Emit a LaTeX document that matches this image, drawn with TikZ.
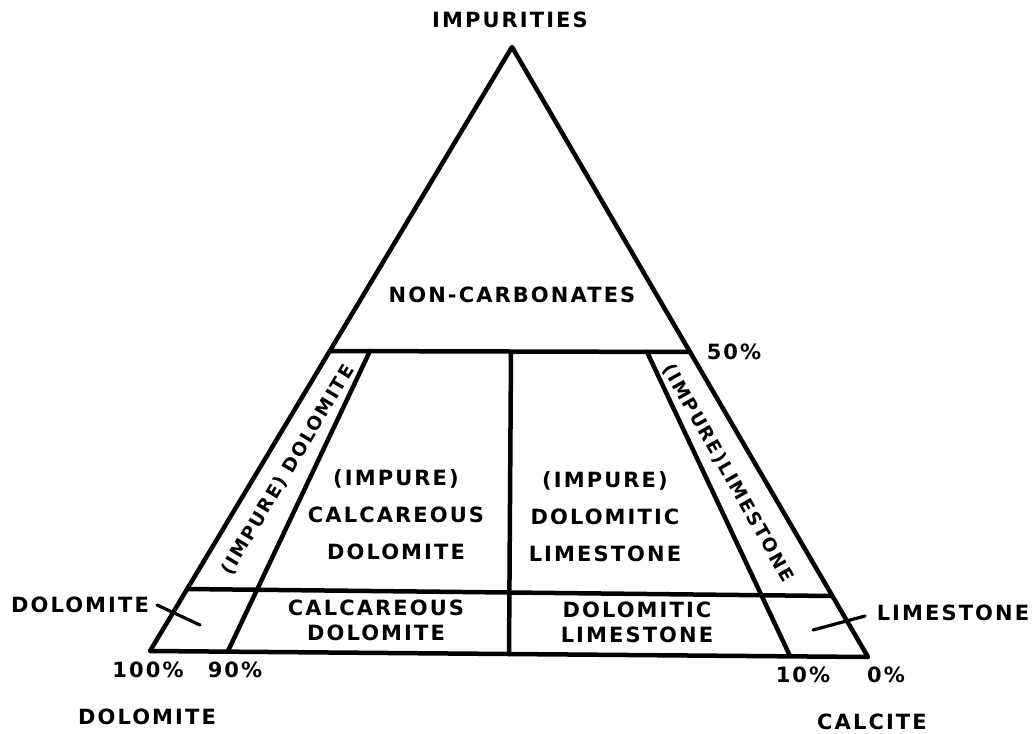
\documentclass[tikz,border=0pt]{standalone}
\usepackage{fontspec}
\setmainfont{DejaVu Sans}[LetterSpace=10]
\usetikzlibrary{calc}
\begin{document}
\begin{tikzpicture}[x=1pt,y=-1pt, line width=4.5pt, line join=round, line cap=round,
  lbl/.style={font=\bfseries\fontsize{21}{24}\selectfont, inner sep=0pt, align=center},
  lblrot/.style={lbl, font=\bfseries\fontsize{18.5}{22}\selectfont},
  lblwide/.style={lbl, font=\bfseries\fontsize{21}{37}\selectfont},
  lbltight/.style={lbl, font=\bfseries\fontsize{21}{25}\selectfont},
  tick/.style={line width=3.2pt}]
\useasboundingbox (0,0) rectangle (1032,733);
% triangle corners
\coordinate (A) at (512,47);
\coordinate (BL) at (150,651);
\coordinate (BR) at (868,657);
% 50% line
\coordinate (ML) at (330,351);
\coordinate (MR) at (690,352);
% 10% impurities line
\coordinate (LL) at (187,589);
\coordinate (LR) at (832,596);
% inner oblique lines
\coordinate (IL1) at (370,351);
\coordinate (IL2) at (228,651);
\coordinate (IR1) at (647,352);
\coordinate (IR2) at (790,656);
% central line
\coordinate (C1) at (511,352);
\coordinate (C2) at (509,654);
% ticks
\coordinate (TD1) at (157,605);
\coordinate (TD2) at (200,625);
\coordinate (TL1) at (813,630);
\coordinate (TL2) at (865,616);

\draw (A) -- (BL) -- (BR) -- cycle;
\draw (ML) -- (MR);
\draw (LL) -- (LR);
\draw (IL1) -- (IL2);
\draw (IR1) -- (IR2);
\draw (C1) -- (C2);
\draw[tick] (TD1) -- (TD2);
\draw[tick] (TL1) -- (TL2);

\node[lbl] (imp) at (510,20) {IMPURITIES};
\node[lbl] (nonc) at (512,295) {NON-CARBONATES};
\node[lbl] (p50) at (734,352) {50\%};
\node[lblrot, rotate=59] (idol) at (288,470) {(IMPURE) DOLOMITE};
\node[lblrot, rotate=-60.5] (ilim) at (728,473) {(IMPURE)LIMESTONE};
\node[lblwide] (icd) at (396,515) {(IMPURE)\\CALCAREOUS\\DOLOMITE};
\node[lblwide] (idl) at (605,517) {(IMPURE)\\DOLOMITIC\\LIMESTONE};
\node[lbltight] (cd) at (376,620) {CALCAREOUS\\DOLOMITE};
\node[lbltight] (dl) at (637,622) {DOLOMITIC\\LIMESTONE};
\node[lbl] (dolL) at (80,605) {DOLOMITE};
\node[lbl] (limR) at (953,613) {LIMESTONE};
\node[lbl] (p100) at (148,670) {100\%};
\node[lbl] (p90) at (235,670) {90\%};
\node[lbl] (p10) at (803,675) {10\%};
\node[lbl] (p0) at (886,675) {0\%};
\node[lbl] (dolB) at (147,717) {DOLOMITE};
\node[lbl] (calc) at (872,722) {CALCITE};
\end{tikzpicture}
\end{document}
